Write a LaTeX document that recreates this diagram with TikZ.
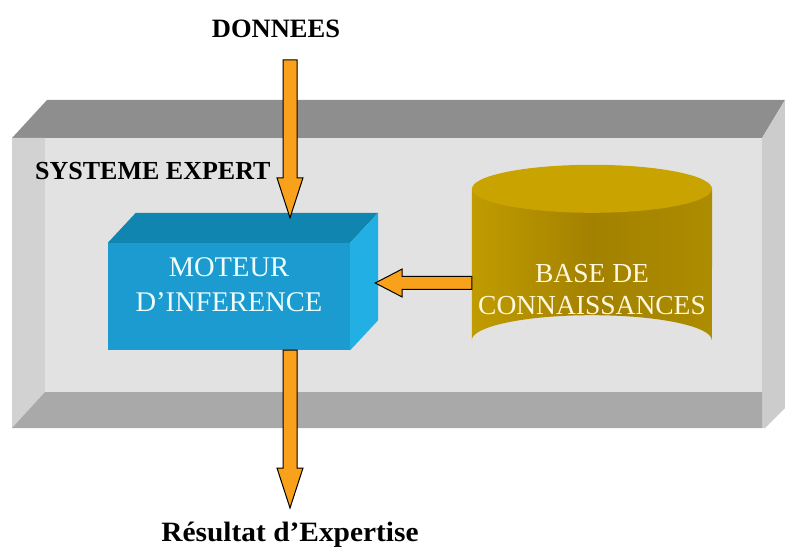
\documentclass[tikz,border=0pt]{standalone}
\usepackage{fontspec}
\usepackage{graphicx}
\setmainfont{Liberation Serif}
\usetikzlibrary{calc}

% palette
\definecolor{slabtop}{HTML}{8E8E8E}
\definecolor{slabbottom}{HTML}{A9A9A9}
\definecolor{slabside}{HTML}{D2D2D2}
\definecolor{slabface}{HTML}{E2E2E2}
\definecolor{cubefront}{HTML}{1B9BCF}
\definecolor{cubetop}{HTML}{1085B0}
\definecolor{cuberight}{HTML}{22B0E4}
\definecolor{drumedge}{HTML}{C09C00}
\definecolor{drummid}{HTML}{A38100}
\definecolor{drumtop}{HTML}{C9A300}
\definecolor{flow}{HTML}{F9A11B}
\definecolor{drumtext}{HTML}{FFF8DC}
\definecolor{cubetext}{HTML}{EFFFFF}

\tikzset{
  darklabel/.style={inner sep=0pt, text=black},
  lightlabel/.style={inner sep=0pt, align=center},
  % block arrow pointing down, tip at the target
  downflow/.style={fill=flow, draw=black, line width=1pt, line join=miter,
    to path={($(\tikztostart)+(-7,0)$) -- ($(\tikztotarget)+(-7,-40)$)
      -- ($(\tikztotarget)+(-13,-40)$) -- (\tikztotarget)
      -- ($(\tikztotarget)+(13,-40)$) -- ($(\tikztotarget)+(7,-40)$)
      -- ($(\tikztostart)+(7,0)$) -- cycle}},
  % block arrow pointing left, tip at the target
  leftflow/.style={fill=flow, draw=black, line width=1pt, line join=miter,
    to path={($(\tikztostart)+(0,-6.5)$) -- ($(\tikztotarget)+(27,-6.5)$)
      -- ($(\tikztotarget)+(27,-14)$) -- (\tikztotarget)
      -- ($(\tikztotarget)+(27,14)$) -- ($(\tikztotarget)+(27,6.5)$)
      -- ($(\tikztostart)+(0,6.5)$) -- cycle}},
}

\begin{document}
\begin{tikzpicture}[x=1pt,y=-1pt]
\useasboundingbox (0,0) rectangle (785,548);

% bevelled slab of the expert system
\fill[slabtop] (12,138) -- (47,100) -- (785,100) -- (762,138) -- cycle;
\fill[slabside] (12,138) -- (45,138) -- (45,392) -- (12,428) -- cycle;
\fill[slabside!97!black] (762,138) -- (785,100) -- (785,408) -- (765,428) -- (762,428) -- cycle;
\fill[slabbottom] (12,428) -- (45,392) -- (762,392) -- (762,428) -- cycle;
\fill[slabface] (45,138) rectangle (762,392);

% inference engine block
\node[fill=cubefront, inner sep=0pt, minimum width=242pt, minimum height=107pt] (moteur) at (229,296.5) {};
\fill[cubetop] (moteur.north west) -- ++(28,-30) -- ($(moteur.north east)+(28,-30)$) -- (moteur.north east) -- cycle;
\fill[cuberight] (moteur.north east) -- ++(28,-30) -- ($(moteur.south east)+(28,-30)$) -- (moteur.south east) -- cycle;
\node[lightlabel, text=cubetext, font=\fontsize{28.5}{35}\selectfont] (moteurtxt) at (229,285) {MOTEUR\\D’INFERENCE};

% knowledge base drum
\node[inner sep=0pt, minimum width=240pt, minimum height=151pt] (drum) at (592,264.5) {};
\path[left color=drumedge, right color=drumedge!90!black, middle color=drummid]
  (drum.north west) -- (drum.south west)
  arc[start angle=180, end angle=360, x radius=120, y radius=25]
  -- (drum.north east) -- cycle;
\fill[drumtop] (drum.north) ellipse[x radius=120, y radius=24];
\node[lightlabel, text=drumtext, font=\fontsize{27.5}{32}\selectfont] (basetxt) at (592,289.5) {BASE DE\\CONNAISSANCES};

% captions
\node[darklabel, anchor=base, font=\bfseries\fontsize{26.5}{30}\selectfont] (donnees) at (276,38) {DONNEES};
\node[darklabel, anchor=base west, font=\bfseries\fontsize{26}{30}\selectfont] (systeme) at (35,180) {SYSTEME EXPERT};
\node[darklabel, anchor=base, font=\bfseries\fontsize{28}{32}\selectfont] (res) at (290,541) {\scalebox{1.05}[1]{Résultat d’Expertise}};

% flow arrows
\coordinate (dtop) at (290,60);
\coordinate (mtip) at ($(moteur.north -| dtop)+(0,-25)$);
\coordinate (mout) at (moteur.south -| dtop);
\coordinate (rtip) at (290,508);
\coordinate (mright) at ($(moteur.east)+(25,-13.5)$);
\coordinate (dleft) at (drum.west |- mright);

\draw[downflow] (dtop) to (mtip);
\draw[downflow] (mout) to (rtip);
\draw[leftflow] (dleft) to (mright);
\end{tikzpicture}
\end{document}
